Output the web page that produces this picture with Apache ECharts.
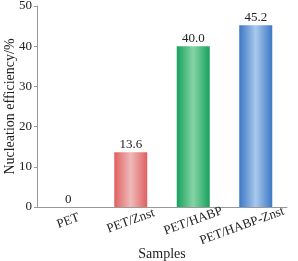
<!DOCTYPE html>
<html>
<head>
<meta charset="utf-8">
<script src="https://cdn.jsdelivr.net/npm/echarts@6/dist/echarts.min.js"></script>
<style>
  html, body { margin: 0; padding: 0; background: #fff; }
  #chart { width: 298px; height: 261px; }
</style>
</head>
<body>
<div id="chart"></div>
<script>
const categories = ["PET", "PET/Znst", "PET/HABP", "PET/HABP-Znst"];
const efficiency = [0, 13.6, 40.0, 45.2];
const valueLabels = ["0", "13.6", "40.0", "45.2"];
const yTicks = [0, 10, 20, 30, 40, 50];

// edge colour, centre colour per bar
const barShades = [
  ["#e06060", "#efbaba"],
  ["#e06060", "#efbaba"],
  ["#17a15e", "#86d4a6"],
  ["#3b78c6", "#a9c9ec"],
];

const FONT = "'Liberation Serif', 'Times New Roman', Times, serif";
const INK = "#222";
const AXIS = "#999";

function shade([edge, mid]) {
  return new echarts.graphic.LinearGradient(0, 0, 1, 0, [
    { offset: 0, color: edge },
    { offset: 0.5, color: mid },
    { offset: 1, color: edge },
  ]);
}

const chart = echarts.init(document.getElementById("chart"), null, { renderer: "canvas" });

chart.setOption({
  animation: false,
  grid: { left: 37, right: 11, top: 6, bottom: 54, outerBoundsMode: "none", containLabel: false },
  xAxis: {
    type: "category",
    data: categories,
    name: "Samples",
    nameLocation: "middle",
    nameGap: 40,
    nameMoveOverlap: false,
    nameTextStyle: { fontFamily: FONT, fontSize: 14, color: INK },
    axisLine: { lineStyle: { color: AXIS } },
    axisTick: { show: false },
    axisLabel: {
      rotate: 20,
      interval: 0,
      margin: 14,
      align: "center",
      verticalAlign: "middle",
      fontFamily: FONT,
      fontSize: 13,
      color: INK,
      // the last label sits a little left of its bar in the source figure
      formatter: (v, i) => (i === categories.length - 1 ? v + "\u00a0".repeat(9) : v),
    },
  },
  yAxis: {
    type: "value",
    min: yTicks[0],
    max: yTicks[yTicks.length - 1],
    interval: 10,
    name: "Nucleation efficiency/%",
    nameLocation: "middle",
    nameGap: 20,
    nameMoveOverlap: false,
    nameTextStyle: { fontFamily: FONT, fontSize: 14, color: INK },
    axisLine: { show: true, lineStyle: { color: AXIS } },
    axisTick: { show: true, inside: false, length: 3, lineStyle: { color: AXIS } },
    splitLine: { show: false },
    axisLabel: { fontFamily: FONT, fontSize: 13, color: INK, margin: 5 },
  },
  series: [
    {
      type: "bar",
      barWidth: 33,
      data: efficiency.map((v, i) => ({
        value: v,
        itemStyle: { color: shade(barShades[i]) },
        label: { formatter: valueLabels[i] },
      })),
      label: {
        show: true,
        position: "top",
        distance: 1,
        fontFamily: FONT,
        fontSize: 13,
        color: INK,
      },
    },
  ],
});
</script>
</body>
</html>
